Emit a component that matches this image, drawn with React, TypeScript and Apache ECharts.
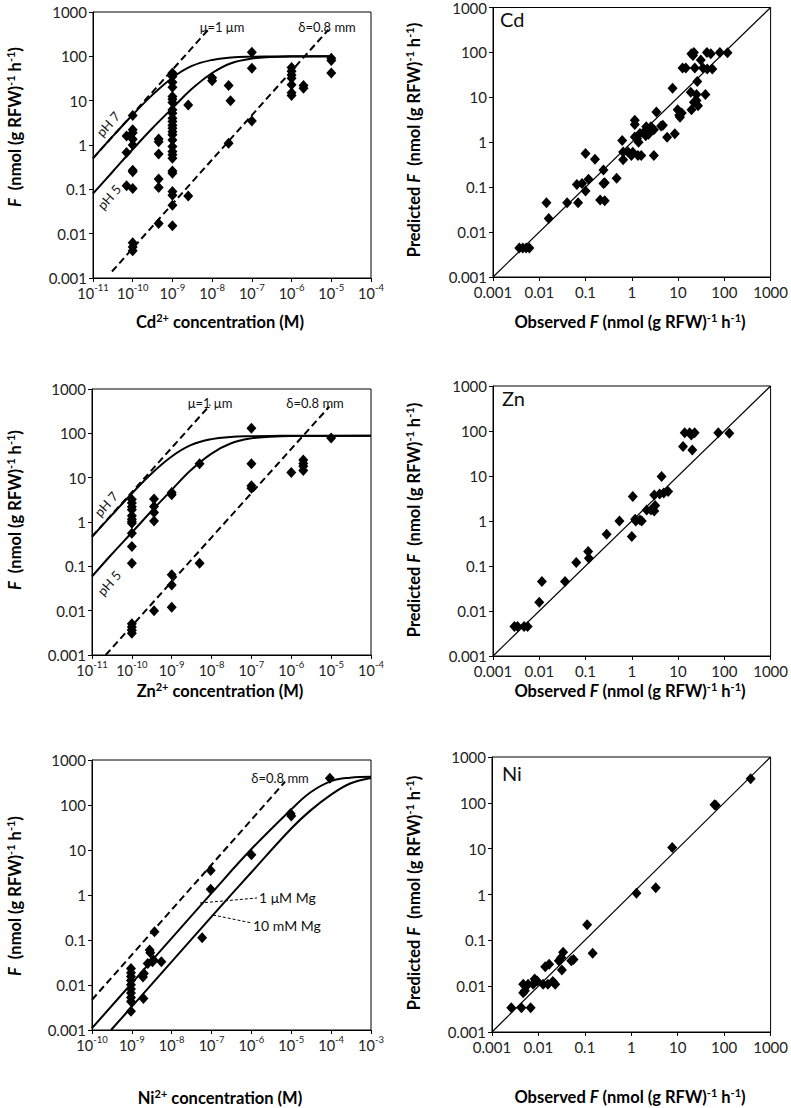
import React, { useEffect, useRef } from "react";
import * as echarts from "echarts";

const FONT = "Lato, 'Open Sans', sans-serif";

// ---------- tick labels ----------
const decimalTickLabels = ["0.001", "0.01", "0.1", "1", "10", "100", "1000"];

// ---------- Cd: uptake vs concentration [M, nmol g-1 h-1] ----------
const cdUptake: [number, number][] = [
  [7e-11, 1.6], [7e-11, 0.68], [7e-11, 0.12],
  [1e-10, 4.6], [1e-10, 2.2], [1e-10, 1.9], [1e-10, 1.35], [1e-10, 1.0], [1e-10, 0.27], [1e-10, 0.25], [1e-10, 0.105],
  [1e-10, 0.0062], [1e-10, 0.005], [1e-10, 0.0041],
  [4.5e-10, 1.37], [4.5e-10, 1.19], [4.5e-10, 0.63], [4.5e-10, 0.17], [4.5e-10, 0.11], [4.5e-10, 0.017],
  [1e-9, 42], [1e-9, 35], [1e-9, 26], [1e-9, 20], [1e-9, 12.4], [1e-9, 10.8], [1e-9, 9.1], [1e-9, 6.2], [1e-9, 5.2],
  [1e-9, 4.0], [1e-9, 3.4], [1e-9, 2.8], [1e-9, 2.4], [1e-9, 2.0], [1e-9, 1.7], [1e-9, 1.3], [1e-9, 0.92], [1e-9, 0.71],
  [1e-9, 0.6], [1e-9, 0.5], [1e-9, 0.26], [1e-9, 0.23], [1e-9, 0.089], [1e-9, 0.074], [1e-9, 0.044], [1e-9, 0.015],
  [2.5e-9, 8.0], [2.5e-9, 0.071],
  [1e-8, 33], [1e-8, 28],
  [2.6e-8, 22], [2.9e-8, 10], [2.6e-8, 1.1],
  [1e-7, 123], [1e-7, 54], [1e-7, 3.5],
  [1e-6, 56], [1e-6, 46], [1e-6, 38], [1e-6, 32], [1e-6, 23], [1e-6, 15], [1e-6, 13],
  [2e-6, 22], [2e-6, 19],
  [1e-5, 91], [1e-5, 81], [1e-5, 42],
];
const cdCurveConc = [1e-11, 3e-11, 1e-10, 3e-10, 1e-9, 3e-9, 1e-8, 3e-8, 1e-7, 3e-7, 1e-6, 1e-5];
const cdPH7Flux = [0.5, 1.5, 4.8, 13, 33, 60, 83, 94, 98, 99, 100, 100];
const cdPH5Flux = [0.08, 0.24, 0.8, 2.3, 6.8, 18, 42, 70, 89, 96, 99, 100];
const cdMuLine: [number, number][] = [[1e-11, 0.5], [8.7e-9, 435]];
const cdDeltaLine: [number, number][] = [[3e-11, 0.0014], [8.5e-6, 400]];

// ---------- Cd: predicted vs observed ----------
const cdPredicted: [number, number][] = [
  [0.0037, 0.0044], [0.0044, 0.0044], [0.0052, 0.0044], [0.0061, 0.0044],
  [0.0143, 0.045], [0.016, 0.02], [0.04, 0.045], [0.069, 0.045], [0.065, 0.115], [0.084, 0.12], [0.1, 0.082],
  [0.116, 0.15], [0.1, 0.56], [0.16, 0.42], [0.207, 0.052], [0.26, 0.05], [0.244, 0.24], [0.244, 0.12], [0.26, 0.125],
  [0.47, 0.157], [0.62, 1.1], [0.65, 0.61], [0.65, 0.41], [0.83, 0.61], [0.98, 0.51], [1.05, 0.6], [1.16, 3.1],
  [1.16, 2.5], [1.16, 1.31], [1.36, 0.51], [1.5, 1.56], [1.6, 0.51], [1.9, 1.75], [2.05, 2.2], [2.6, 2.2], [3.0, 0.51],
  [3.4, 4.7], [4.3, 2.3], [4.7, 2.4], [5.8, 1.3], [8.5, 1.55], [1.3, 1.2], [1.4, 1.0], [2.3, 1.5], [2.0, 1.4], [3.0, 1.9],
  [7.6, 16], [9.8, 5.3], [10.6, 4.0], [12, 4.5], [11, 3.6], [19.5, 5.3], [22, 7.8], [25, 11.6], [39, 11.6], [18.8, 13],
  [26, 22.5], [12.5, 45], [14.7, 45], [23, 45], [34.5, 45], [42.6, 43], [55, 43], [31, 68], [19.4, 93], [21, 85],
  [22, 100], [42, 100], [51, 93], [80, 100], [117, 98], [27, 6.5], [25, 8.5],
];

// ---------- Zn: uptake vs concentration ----------
const znUptake: [number, number][] = [
  [1e-10, 3.2], [1e-10, 2.7], [1e-10, 2.2], [1e-10, 1.9], [1e-10, 1.38], [1e-10, 1.16], [1e-10, 1.02], [1e-10, 0.94],
  [1e-10, 0.56], [1e-10, 0.28], [1e-10, 0.117], [1e-10, 0.0051], [1e-10, 0.0043], [1e-10, 0.0036], [1e-10, 0.0031],
  [3.6e-10, 3.3], [3.6e-10, 2.24], [3.6e-10, 1.64], [3.6e-10, 1.06], [3.6e-10, 0.01],
  [1e-9, 4.6], [1e-9, 4.1], [1e-9, 0.065], [1e-9, 0.038], [1e-9, 0.012],
  [5e-9, 20.6], [5e-9, 0.117],
  [1e-7, 131], [1e-7, 20.6], [1e-7, 6.6], [1e-7, 5.8],
  [1e-6, 13],
  [2e-6, 25], [2e-6, 21], [2e-6, 18], [2e-6, 14.6],
  [1e-5, 78],
];
const znCurveConc = [1e-11, 3e-11, 1e-10, 3e-10, 1e-9, 3e-9, 1e-8, 3e-8, 1e-7, 3e-7, 1e-6, 1e-4];
const znPH7Flux = [0.46, 1.37, 4.4, 12, 30, 54, 74, 83, 86, 87.5, 88, 88];
const znPH5Flux = [0.059, 0.18, 0.58, 1.7, 5.3, 14.7, 35, 59, 77, 84, 87, 88];
const znMuLine: [number, number][] = [[1e-11, 0.47], [9.2e-9, 435]];
const znDeltaLine: [number, number][] = [[2.2e-11, 0.001], [9e-6, 400]];

// ---------- Zn: predicted vs observed ----------
const znPredicted: [number, number][] = [
  [0.0029, 0.0045], [0.0034, 0.0045], [0.0047, 0.0045], [0.0056, 0.0045],
  [0.01, 0.0156], [0.0114, 0.045], [0.036, 0.045], [0.063, 0.119], [0.114, 0.21], [0.118, 0.148], [0.286, 0.51],
  [0.54, 1.0], [1.0, 0.45], [1.05, 3.5], [1.18, 1.1], [1.22, 1.0], [1.5, 1.05], [1.64, 1.0], [2.1, 1.75], [2.6, 1.75],
  [3.06, 1.67], [3.2, 2.2], [3.06, 3.8], [4.0, 4.0], [4.9, 4.2], [6.1, 4.5], [4.4, 9.7], [12.8, 45], [13.9, 92],
  [17.8, 92], [22.8, 92], [19.3, 81], [20.3, 38], [74, 92], [128, 89],
];

// ---------- Ni: uptake vs concentration ----------
const niUptake: [number, number][] = [
  [9.5e-10, 0.0234], [9.5e-10, 0.0188], [9.5e-10, 0.0154], [9.5e-10, 0.0126], [9.5e-10, 0.0101], [9.5e-10, 0.0081],
  [9.5e-10, 0.0066], [9.5e-10, 0.0053], [9.5e-10, 0.0043], [9.5e-10, 0.0026],
  [1.9e-9, 0.015], [2e-9, 0.018], [1.95e-9, 0.005], [2.5e-9, 0.03], [2.8e-9, 0.06], [2.9e-9, 0.052], [3.3e-9, 0.033],
  [3.5e-9, 0.036], [3.7e-9, 0.153], [5.5e-9, 0.033],
  [5.8e-8, 0.112], [9.5e-8, 3.5], [9.5e-8, 1.34], [1e-6, 7.8], [9.6e-6, 65], [1e-5, 57], [9.3e-5, 392],
];
const niLowMgConc = [1e-10, 1e-9, 1e-8, 1e-7, 1e-6, 1e-5, 3e-5, 1e-4, 3e-4, 1e-3];
const niLowMgFlux = [0.0011, 0.011, 0.11, 1.1, 10.5, 80, 190, 340, 405, 425];
const niHighMgConc = [3e-10, 1e-9, 1e-8, 1e-7, 1e-6, 1e-5, 3e-5, 1e-4, 3e-4, 1e-3];
const niHighMgFlux = [0.001, 0.0033, 0.033, 0.33, 3.2, 30, 75, 170, 300, 400];
const niDeltaLine: [number, number][] = [[1e-10, 0.0047], [7e-6, 330]];

// ---------- Ni: predicted vs observed ----------
const niPredicted: [number, number][] = [
  [0.0026, 0.0034], [0.0043, 0.0034], [0.0068, 0.0034], [0.0047, 0.011], [0.0051, 0.0079], [0.006, 0.011],
  [0.0077, 0.011], [0.0083, 0.0143], [0.0094, 0.013], [0.0126, 0.011], [0.016, 0.011], [0.0204, 0.0126],
  [0.023, 0.011], [0.014, 0.0265], [0.017, 0.03], [0.0275, 0.036], [0.031, 0.042], [0.034, 0.055], [0.032, 0.0224],
  [0.051, 0.036], [0.057, 0.038], [0.112, 0.218], [0.147, 0.052], [1.29, 1.07], [3.36, 1.41], [7.6, 10.6],
  [62, 91], [66, 89], [372, 334], [0.0047, 0.0072],
];
const identityLine: [number, number][] = [[0.001, 0.001], [1000, 1000]];

// ---------- helpers ----------
const zip = (xs: number[], ys: number[]) => xs.map((x, i) => [x, ys[i]]);

const grids = [
  { left: 93, top: 12, width: 278, height: 266 },
  { left: 493, top: 7, width: 281, height: 270 },
  { left: 92, top: 389, width: 279, height: 266 },
  { left: 493, top: 386, width: 280, height: 270 },
  { left: 92, top: 760, width: 279, height: 270 },
  { left: 492, top: 757, width: 280, height: 275 },
];

const axisCommon = {
  type: "log" as const,
  logBase: 10,
  axisLine: { show: true, lineStyle: { color: "#000", width: 1 } },
  axisTick: { show: true, length: 4, inside: false, lineStyle: { color: "#000", width: 1 } },
  splitLine: { show: false },
  minorTick: { show: false },
};

const decLabel = (v: number) => decimalTickLabels[Math.round(Math.log10(v)) + 3] ?? "";
const expLabel = (v: number) => `{b|10}{s|${Math.round(Math.log10(v))}}`;

const xAxisFor = (i: number, min: number, max: number, exp: boolean) => ({
  ...axisCommon,
  gridIndex: i,
  min,
  max,
  axisLabel: exp
    ? {
        formatter: expLabel,
        margin: 4,
        color: "#222",
        rich: {
          b: { fontSize: 14.5, fontFamily: FONT, color: "#222", lineHeight: 19, verticalAlign: "bottom" },
          s: { fontSize: 9.5, fontFamily: FONT, color: "#222", lineHeight: 10, verticalAlign: "top" },
        },
      }
    : { formatter: decLabel, margin: 7, fontSize: 15, fontFamily: FONT, color: "#222" },
});

const yAxisFor = (i: number) => ({
  ...axisCommon,
  gridIndex: i,
  min: 0.001,
  max: 1000,
  axisLabel: { formatter: decLabel, margin: 6, fontSize: 15, fontFamily: FONT, color: "#222" },
});

const scatter = (data: number[][], i: number) => ({
  type: "scatter",
  xAxisIndex: i,
  yAxisIndex: i,
  data,
  symbol: "diamond",
  symbolSize: [10, 11],
  itemStyle: { color: "#000", opacity: 1 },
  z: 5,
  silent: true,
});

const line = (data: number[][], i: number, opts: { dashed?: boolean; width?: number; smooth?: number } = {}) => ({
  type: "line",
  xAxisIndex: i,
  yAxisIndex: i,
  data,
  showSymbol: false,
  symbol: "none",
  smooth: opts.smooth ?? false,
  lineStyle: { color: "#000", width: opts.width ?? 2, type: opts.dashed ? [7, 4] : "solid" },
  z: 3,
  silent: true,
});

const rich = {
  n: { fontSize: 16.5, fontWeight: "bold", fontFamily: FONT, color: "#111", lineHeight: 18, verticalAlign: "bottom" },
  i: { fontSize: 16.5, fontWeight: "bold", fontStyle: "italic", fontFamily: FONT, color: "#111", lineHeight: 18, verticalAlign: "bottom" },
  s: { fontSize: 11, fontWeight: "bold", fontFamily: FONT, color: "#111", lineHeight: 11, verticalAlign: "top" },
};

const richText = (x: number, y: number, text: string, rotation = 0) => ({
  type: "text",
  x,
  y,
  rotation,
  silent: true,
  style: { text, rich, textAlign: "center", textVerticalAlign: "middle", fontFamily: FONT, fontSize: 16.5, fontWeight: "bold" },
});

const plainText = (x: number, y: number, text: string, size = 13, rotation = 0, align = "center") => ({
  type: "text",
  x,
  y,
  rotation,
  silent: true,
  style: { text, fontSize: size, fontFamily: FONT, fill: "#111", textAlign: align, textVerticalAlign: "middle" },
});

const leader = (x1: number, y1: number, x2: number, y2: number) => ({
  type: "line",
  silent: true,
  shape: { x1, y1, x2, y2 },
  style: { stroke: "#000", lineWidth: 1, lineDash: [3, 2] },
});

const concTitle = (el: string) => `{n|${el}}{s|2+}{n| concentration (M)}`;
const fluxTitle = "{i|F}{n|  (nmol (g RFW)}{s|-1}{n| h}{s|-1}{n|)}";
const predTitle = "{n|Predicted }{i|F}{n|  (nmol (g RFW)}{s|-1}{n| h}{s|-1}{n|)}";
const obsTitle = "{n|Observed }{i|F}{n| (nmol (g RFW)}{s|-1}{n| h}{s|-1}{n|)}";

const SLOPE_ROT = 0.84;

export default function App() {
  const ref = useRef<HTMLDivElement>(null);
  useEffect(() => {
    if (!ref.current) return;
    const chart = echarts.init(ref.current, undefined, { renderer: "svg" });
    chart.setOption({
      animation: false,
      backgroundColor: "#fff",
      grid: grids.map((g) => ({ ...g, show: true, borderColor: "#000", borderWidth: 1, backgroundColor: "transparent", containLabel: false })),
      xAxis: [
        xAxisFor(0, 1e-11, 1e-4, true),
        xAxisFor(1, 0.001, 1000, false),
        xAxisFor(2, 1e-11, 1e-4, true),
        xAxisFor(3, 0.001, 1000, false),
        xAxisFor(4, 1e-10, 1e-3, true),
        xAxisFor(5, 0.001, 1000, false),
      ],
      yAxis: [0, 1, 2, 3, 4, 5].map(yAxisFor),
      series: [
        // Cd left
        line(cdMuLine, 0, { dashed: true }),
        line(cdDeltaLine, 0, { dashed: true }),
        line(zip(cdCurveConc, cdPH7Flux), 0, { smooth: 0.4 }),
        line(zip(cdCurveConc, cdPH5Flux), 0, { smooth: 0.4 }),
        scatter(cdUptake, 0),
        // Cd right
        line(identityLine, 1, { width: 1.2 }),
        scatter(cdPredicted, 1),
        // Zn left
        line(znMuLine, 2, { dashed: true }),
        line(znDeltaLine, 2, { dashed: true }),
        line(zip(znCurveConc, znPH7Flux), 2, { smooth: 0.4 }),
        line(zip(znCurveConc, znPH5Flux), 2, { smooth: 0.4 }),
        scatter(znUptake, 2),
        // Zn right
        line(identityLine, 3, { width: 1.2 }),
        scatter(znPredicted, 3),
        // Ni left
        line(niDeltaLine, 4, { dashed: true }),
        line(zip(niLowMgConc, niLowMgFlux), 4, { smooth: 0.4 }),
        line(zip(niHighMgConc, niHighMgFlux), 4, { smooth: 0.4 }),
        scatter(niUptake, 4),
        // Ni right
        line(identityLine, 5, { width: 1.2 }),
        scatter(niPredicted, 5),
      ],
      graphic: [
        // Cd left annotations
        plainText(222, 27, "μ=1 μm"),
        plainText(327, 27, "δ=0.8 mm"),
        plainText(108, 124, "pH 7", 13, SLOPE_ROT),
        plainText(109, 197, "pH 5", 13, SLOPE_ROT),
        richText(220, 321, concTitle("Cd")),
        richText(14, 127, fluxTitle, Math.PI / 2),
        // Cd right
        plainText(500, 19, "Cd", 20, 0, "left"),
        richText(630, 321, obsTitle),
        richText(413, 140, predTitle, Math.PI / 2),
        // Zn left
        plainText(210, 403, "μ=1 μm"),
        plainText(315, 403, "δ=0.8 mm"),
        plainText(106, 504, "pH 7", 13, SLOPE_ROT),
        plainText(109, 583, "pH 5", 13, SLOPE_ROT),
        richText(220, 690, concTitle("Zn")),
        richText(14, 510, fluxTitle, Math.PI / 2),
        // Zn right
        plainText(502, 398, "Zn", 20, 0, "left"),
        richText(630, 690, obsTitle),
        richText(413, 520, predTitle, Math.PI / 2),
        // Ni left
        plainText(280, 778, "δ=0.8 mm"),
        leader(200, 903, 257, 898),
        leader(213, 915, 252, 923),
        plainText(259, 897, "1 μM Mg", 14, 0, "left"),
        plainText(253, 925, "10 mM Mg", 14, 0, "left"),
        richText(220, 1097, concTitle("Ni")),
        richText(14, 896, fluxTitle, Math.PI / 2),
        // Ni right
        plainText(502, 773, "Ni", 20, 0, "left"),
        richText(630, 1096, obsTitle),
        richText(413, 893, predTitle, Math.PI / 2),
      ],
    });
    return () => chart.dispose();
  }, []);
  return (
    <div
      ref={ref}
      style={{ position: "absolute", left: 0, top: 0, width: 791, height: 1108, background: "#fff" }}
    />
  );
}
